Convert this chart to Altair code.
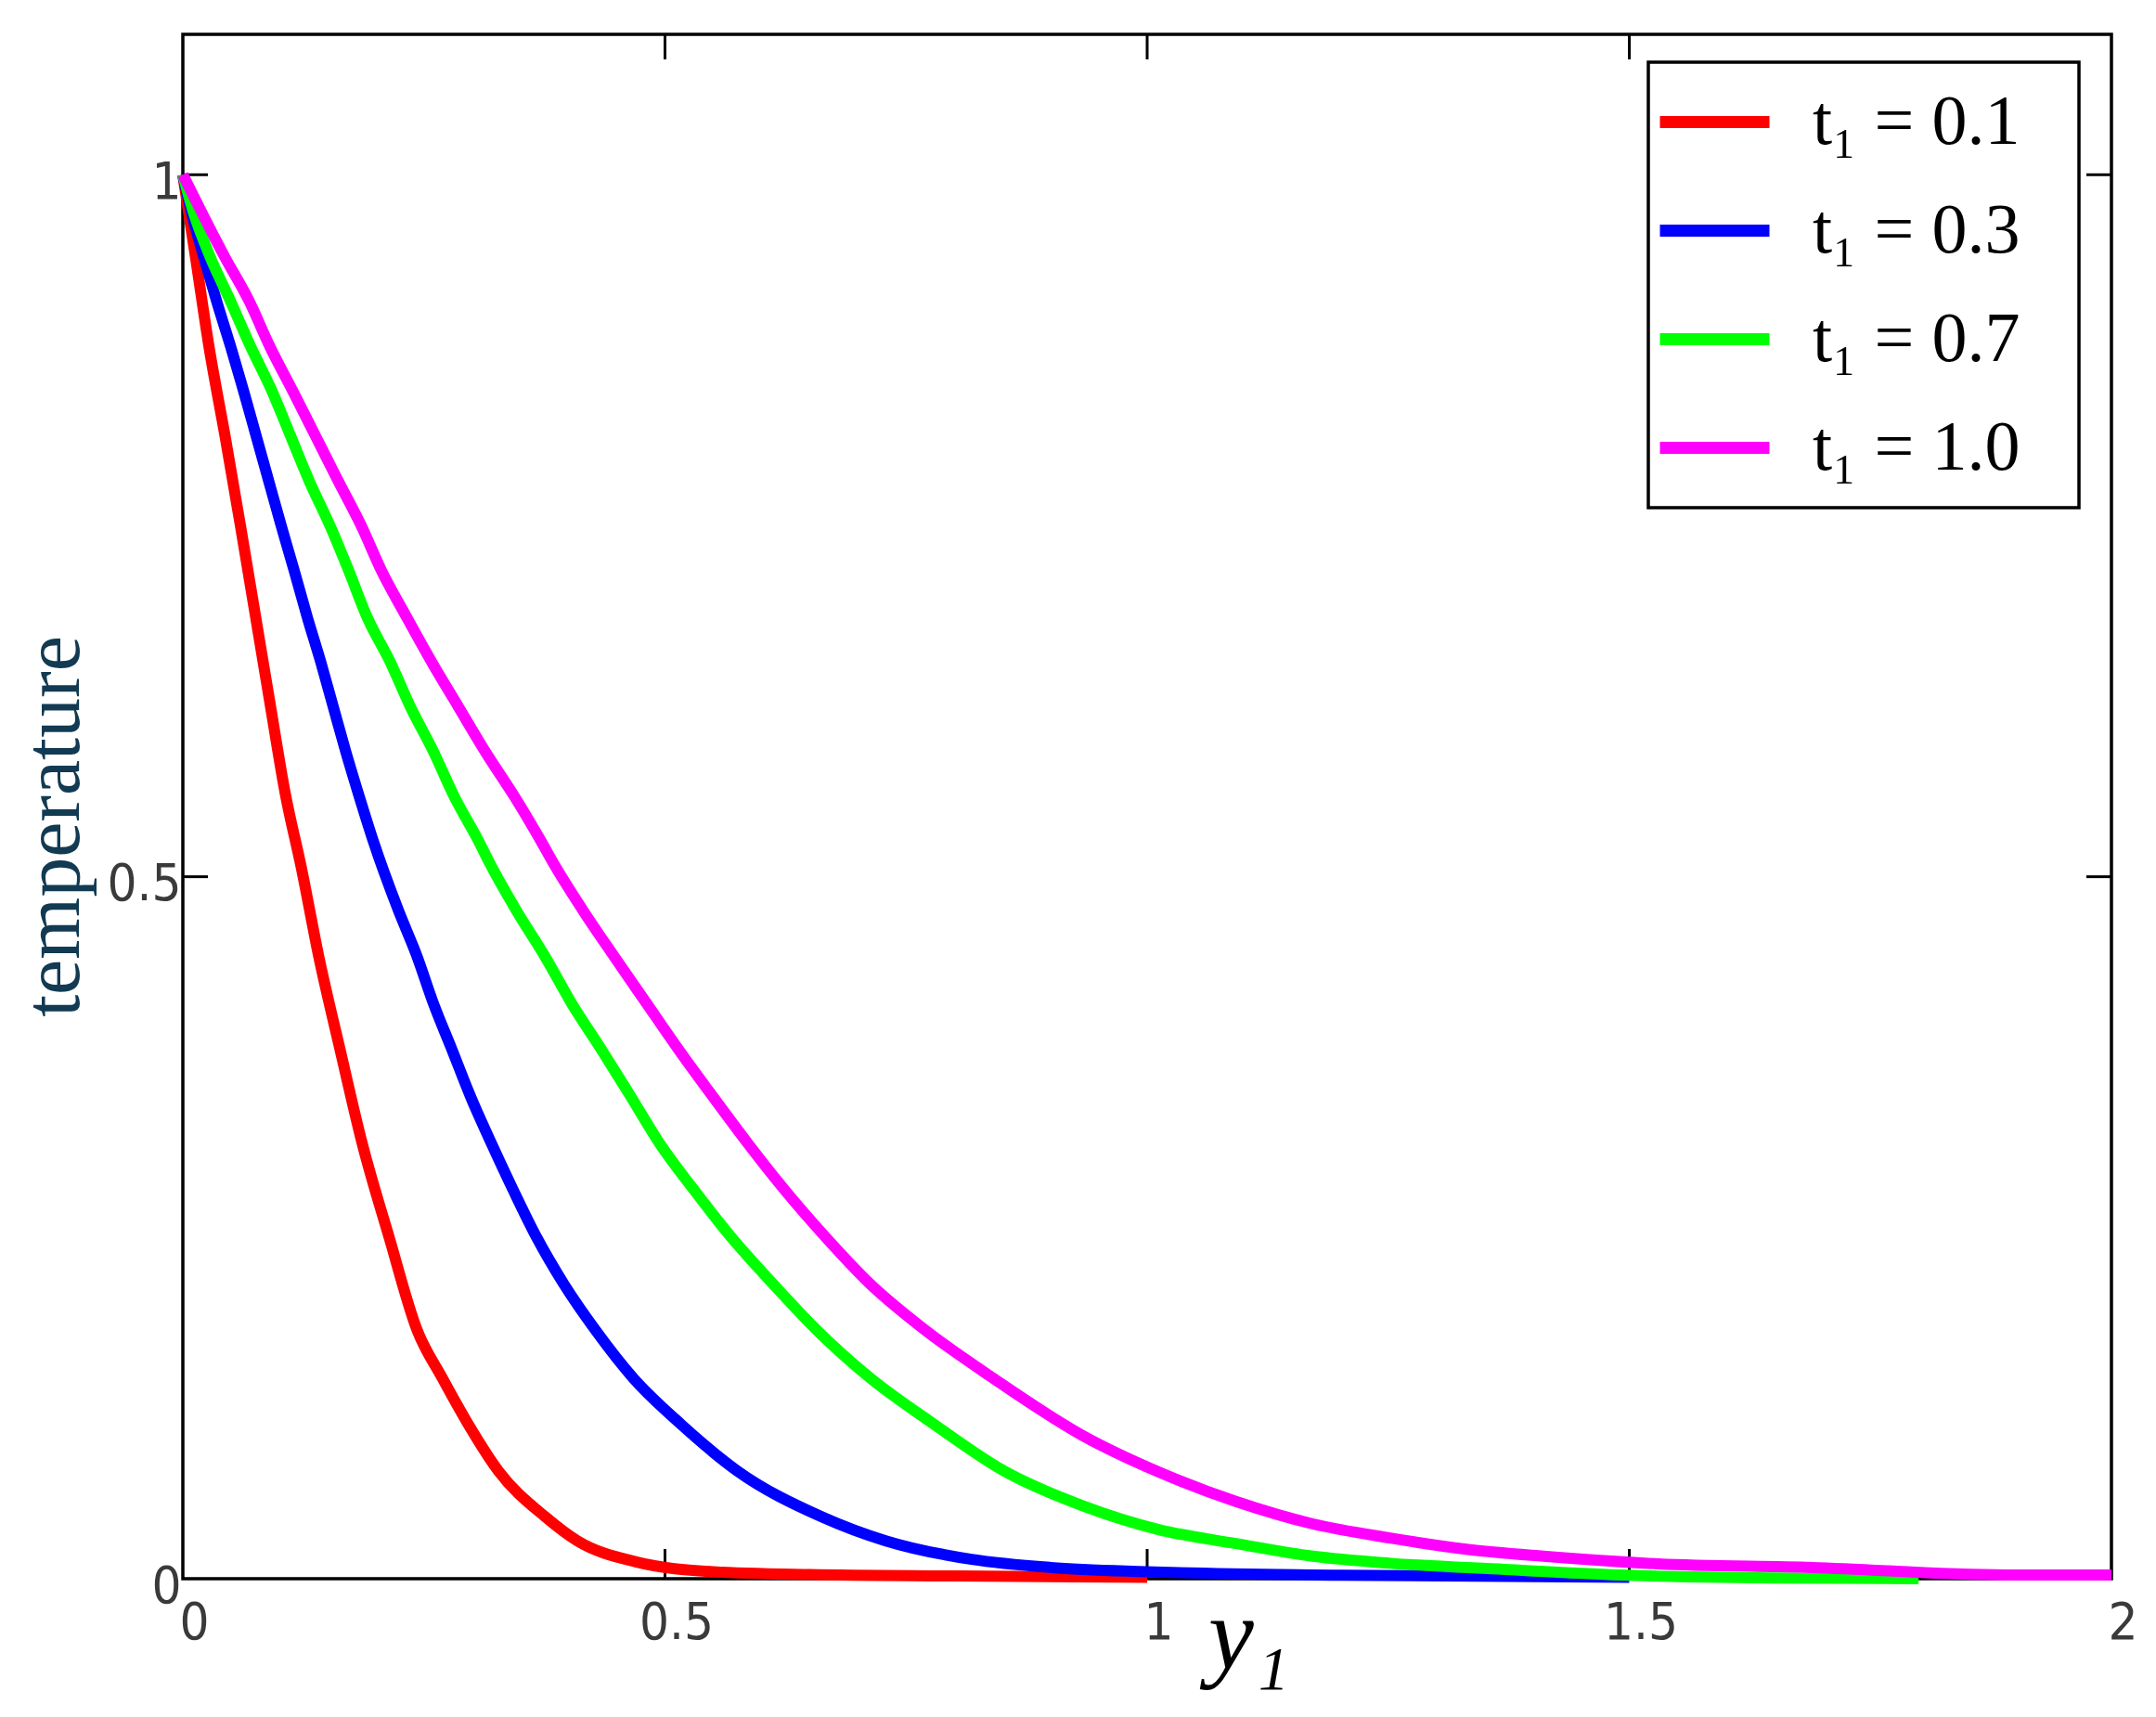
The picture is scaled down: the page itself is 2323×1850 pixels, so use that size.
import altair as alt
import pandas as pd

# ---------------- data ----------------
labels = ["t₁ = 0.1", "t₁ = 0.3", "t₁ = 0.7", "t₁ = 1.0"]
colors = ["#ff0000", "#0000ff", "#00ff00", "#ff00ff"]

red_x = [0, 0.013, 0.027, 0.044, 0.060, 0.0755, 0.091, 0.106, 0.123, 0.141, 0.163, 0.186,
         0.214, 0.243, 0.269, 0.296, 0.327, 0.376, 0.409, 0.47, 0.55, 0.65, 0.8, 1.0]
red_y = [1.0, 0.942, 0.878, 0.813, 0.749, 0.685, 0.621, 0.560, 0.506, 0.443, 0.377, 0.310,
         0.243, 0.177, 0.143, 0.110, 0.077, 0.044, 0.027, 0.012, 0.005, 0.003, 0.002, 0.001]

blue_x = [0, 0.0086, 0.0215, 0.0350, 0.0494, 0.0630, 0.0760, 0.089, 0.102, 0.1155, 0.129, 0.143,
          0.156, 0.169, 0.183, 0.1977, 0.223, 0.243, 0.2597, 0.279, 0.298, 0.320, 0.3425,
          0.367, 0.395, 0.428, 0.467, 0.5166, 0.5746, 0.663, 0.729, 0.818, 0.9, 1.0, 1.2, 1.5]
blue_y = [1.0, 0.974, 0.942, 0.910, 0.878, 0.846, 0.814, 0.782, 0.750, 0.718, 0.685, 0.653,
          0.621, 0.589, 0.557, 0.525, 0.477, 0.443, 0.410, 0.377, 0.344, 0.310, 0.277,
          0.243, 0.210, 0.177, 0.143, 0.110, 0.077, 0.044, 0.027, 0.0138, 0.008, 0.005, 0.0025, 0.001]

green_x = [0, 0.0107, 0.028, 0.0494, 0.070, 0.0924, 0.1117, 0.131, 0.1526, 0.172, 0.191, 0.215,
           0.236, 0.260, 0.2815, 0.307, 0.318, 0.345, 0.3757, 0.403, 0.434, 0.464, 0.4945, 0.530,
           0.569, 0.612, 0.6575, 0.7127, 0.779, 0.851, 0.933, 1.012, 1.092, 1.172, 1.252, 1.371,
           1.49, 1.65, 1.8]
green_y = [1.0, 0.974, 0.942, 0.910, 0.878, 0.846, 0.814, 0.782, 0.750, 0.718, 0.685, 0.653,
           0.621, 0.589, 0.557, 0.525, 0.510, 0.477, 0.443, 0.410, 0.377, 0.344, 0.310, 0.277,
           0.243, 0.210, 0.177, 0.143, 0.110, 0.077, 0.052, 0.035, 0.025, 0.016, 0.011, 0.0066,
           0.0027, 0.0005, 0.0]

magenta_x = [0, 0.019, 0.043, 0.0688, 0.090, 0.114, 0.1375, 0.161, 0.185, 0.206, 0.232, 0.258,
             0.2858, 0.3137, 0.344, 0.3717, 0.384, 0.414, 0.4475, 0.4807, 0.514, 0.549, 0.586,
             0.624, 0.667, 0.7127, 0.770, 0.840, 0.933, 1.012, 1.092, 1.172, 1.252, 1.331, 1.411,
             1.53, 1.69, 1.89, 2.0]
magenta_y = [1.0, 0.974, 0.942, 0.910, 0.878, 0.846, 0.814, 0.782, 0.750, 0.718, 0.685, 0.653,
             0.621, 0.589, 0.557, 0.525, 0.510, 0.477, 0.443, 0.410, 0.377, 0.344, 0.310,
             0.277, 0.243, 0.210, 0.177, 0.143, 0.102, 0.076, 0.055, 0.039, 0.029, 0.021, 0.016,
             0.0106, 0.008, 0.0027, 0.0027]

x_ticks = [0, 0.5, 1, 1.5, 2]
y_ticks = [0, 0.5, 1]
inner_x_ticks = [0.5, 1, 1.5]
inner_y_ticks = [0.5, 1]

rows = []
for lab, xs, ys in zip(labels, [red_x, blue_x, green_x, magenta_x],
                       [red_y, blue_y, green_y, magenta_y]):
    for xv, yv in zip(xs, ys):
        rows.append({"series": lab, "y1": xv, "temp": yv})
df = pd.DataFrame(rows)

# ---------------- layout ----------------
W, H = 2078, 1664
tick_font = "Liberation Sans Narrow, Arial Narrow, DejaVu Sans Condensed, Liberation Sans, sans-serif"
serif = "Liberation Serif, Times New Roman, serif"

x_scale = alt.Scale(domain=[0, 2], nice=False, zero=False)
y_scale = alt.Scale(domain=[0, 1.1], nice=False, zero=False)

x_axis = alt.Axis(
    values=x_ticks, format=".1~f", ticks=False, domain=False, grid=False,
    labelFlush=False, labelOverlap=False, labelFont=tick_font, labelFontSize=56,
    labelColor="#3a3a3a", labelPadding=20, labelOffset=12, labelBaseline="top",
    title="y₁", titleFont=serif, titleFontStyle="italic", titleFontWeight="normal",
    titleFontSize=110, titleColor="black", titleX=1148, titleY=96,
    titleAlign="center", titleBaseline="alphabetic")
y_axis = alt.Axis(
    values=y_ticks, format=".1~f", ticks=False, domain=False, grid=False,
    labelFlush=False, labelOverlap=False, labelFont=tick_font, labelFontSize=56,
    labelColor="#3a3a3a", labelPadding=2, labelOffset=8,
    title="temperature", titleFont=serif, titleFontWeight="normal", titleFontSize=86,
    titleColor="#123a52", titleAngle=270, titleX=-113, titleY=853,
    titleAlign="center", titleBaseline="alphabetic")

xt = pd.DataFrame({"y1": inner_x_ticks})
yt = pd.DataFrame({"temp": inner_y_ticks})

rule = dict(color="black", strokeWidth=3)
bottom_ticks = alt.Chart(xt).mark_rule(**rule).encode(
    x=alt.X("y1:Q", scale=x_scale, axis=x_axis), y=alt.value(H), y2=alt.value(H - 32))
top_ticks = alt.Chart(xt).mark_rule(**rule).encode(
    x=alt.X("y1:Q", scale=x_scale, axis=x_axis), y=alt.value(0), y2=alt.value(27))
left_ticks = alt.Chart(yt).mark_rule(**rule).encode(
    y=alt.Y("temp:Q", scale=y_scale, axis=y_axis), x=alt.value(0), x2=alt.value(27))
right_ticks = alt.Chart(yt).mark_rule(**rule).encode(
    y=alt.Y("temp:Q", scale=y_scale, axis=y_axis), x=alt.value(W), x2=alt.value(W - 27))

lines = alt.Chart(df).mark_line(strokeWidth=12, strokeJoin="round", interpolate="monotone").encode(
    x=alt.X("y1:Q", scale=x_scale, axis=x_axis),
    y=alt.Y("temp:Q", scale=y_scale, axis=y_axis),
    color=alt.Color("series:N", scale=alt.Scale(domain=labels, range=colors),
                    legend=alt.Legend(title="M", titleOrient="right", titleOpacity=0,
                                      titleColor="white", titleFontSize=40, titlePadding=24,
                                      orient="none", legendX=1579, legendY=30,
                                      symbolType="stroke", symbolStrokeWidth=13,
                                      symbolSize=13924, clipHeight=117,
                                      labelFont=serif, labelFontSize=76,
                                      labelColor="black", labelOffset=40, rowPadding=0,
                                      padding=6, strokeColor="black", fillColor="white",
                                      labelLimit=0)),
)

chart = alt.layer(bottom_ticks, top_ticks, left_ticks, right_ticks, lines).properties(
    width=W, height=H,
    autosize=alt.AutoSizeParams(type="none"),
    padding={"left": 189, "top": 29, "right": 40, "bottom": 140},
    background="white",
).configure_view(stroke="black", strokeWidth=3.5).configure_legend(strokeWidth=3.5, cornerRadius=0)

chart.save("out.html", embed_options={"renderer": "svg", "actions": False})
